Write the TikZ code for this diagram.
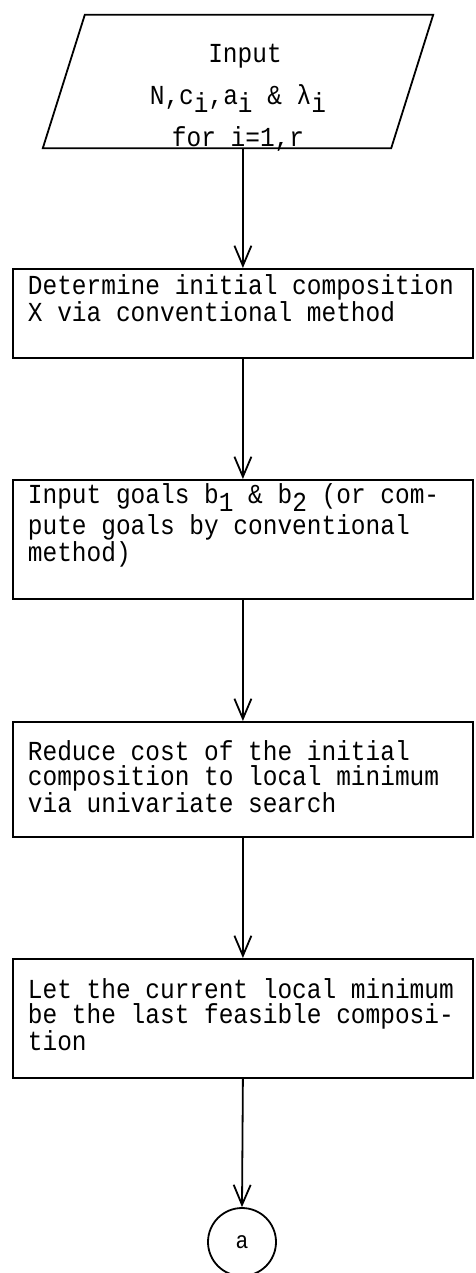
\documentclass[tikz,border=0pt]{standalone}
\usepackage{fontspec}
\newfontfamily\typefont[FakeStretch=0.89]{Liberation Mono}
\usetikzlibrary{arrows.meta}
% lowered index set as a full character cell, as on a typewriter
\newcommand\lowidx[1]{\smash{\raisebox{-8pt}{#1}}}
% keep every blank one full character cell wide
\newcommand\cellspaces{\spaceskip=14.69pt\relax\xspaceskip=14.69pt\relax}
\begin{document}
\begin{tikzpicture}[x=1pt,y=-1pt,
  every node/.style={font=\typefont\fontsize{27.5}{25}\selectfont,
    execute at begin node=\cellspaces},
  line/.style={line width=1.8pt},
  stepbox/.style={draw, line, rectangle, anchor=north west, inner xsep=15pt,
    inner ysep=0pt, text width=430pt, align=left},
  iobody/.style={rectangle, inner sep=0pt, minimum width=348pt,
    minimum height=133pt, align=center},
  connector/.style={draw, line, circle, minimum size=68pt, inner sep=0pt},
  arr/.style={line, -{Straight Barb[length=20pt,width=17pt,line width=1.8pt]}},
]
\useasboundingbox (0,0) rectangle (475,1273);

% input data: text block, then its slanted outline
\node[iobody, text height=132pt, text depth=1pt,
  font=\typefont\fontsize{27.5}{42}\selectfont] (in) at (238,81.5)
  {\hspace*{14pt}Input\\N,c\lowidx{i},a\lowidx{i} \& λ\lowidx{i}\hspace*{8pt}\\for i=1,r};
\draw[line] ([xshift=21pt]in.north west) -- ([xshift=21pt]in.north east)
  -- ([xshift=-21pt]in.south east) -- ([xshift=-21pt]in.south west) -- cycle;

% processing steps
\node[stepbox, text height=26pt, text depth=63pt] (b1) at (12,268)
  {Determine initial composition\\X via conventional method};
\node[stepbox, text height=24pt, text depth=95pt] (b2) at (12,479)
  {Input goals b\lowidx{1} \& b\lowidx{2} (or com-\\[4pt]pute goals by conventional\\method)};
\node[stepbox, text height=39pt, text depth=76pt] (b3) at (12,721)
  {Reduce cost of the initial\\composition to local minimum\\via univariate search};
\node[stepbox, text height=40pt, text depth=79pt] (b4) at (12,958)
  {Let the current local minimum\\be the last feasible composi-\\tion};

% off-page connector
\node[connector, font=\typefont\fontsize{24}{25}\selectfont] (ca) at (242,1242) {a};

% flow
\draw[arr] (in.south -| b1.north) -- (b1.north);
\draw[arr] (b1.south) -- (b2.north);
\draw[arr] (b2.south) -- (b3.north);
\draw[arr] (b3.south) -- (b4.north);
\draw[arr] (b4.south) -- (ca.north);
\end{tikzpicture}
\end{document}
